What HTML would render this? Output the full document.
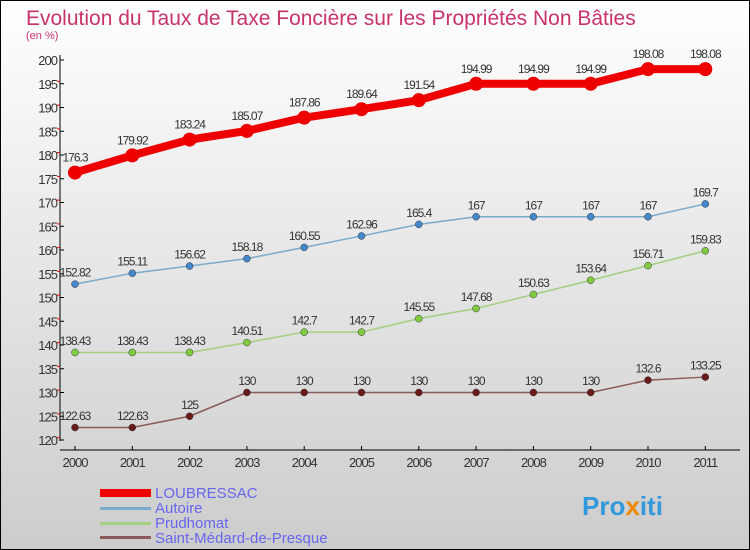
<!DOCTYPE html>
<html><head><meta charset="utf-8"><style>
body{margin:0}
svg{display:block;font-family:"Liberation Sans",sans-serif}
</style></head><body>
<svg id="c" width="750" height="550" viewBox="0 0 750 550">
<defs><linearGradient id="bg" x1="0" y1="0" x2="0" y2="1"><stop offset="0" stop-color="#ffffff"/><stop offset="1" stop-color="#cccccc"/></linearGradient></defs>
<rect x="0.5" y="0.5" width="749" height="549" fill="url(#bg)" stroke="#000"/>
<text x="26" y="25" font-size="21" fill="#c8336a">Evolution du Taux de Taxe Foncière sur les Propriétés Non Bâties</text>
<text x="26" y="39" font-size="11" fill="#c8336a">(en %)</text>
<g id="axes"></g>
<g id="series"></g>
<g>
<rect x="100" y="489" width="51" height="8" fill="#ee0000"/>
<text x="155" y="498" font-size="15" fill="#6666ee">LOUBRESSAC</text>
<rect x="100" y="507" width="51" height="3" fill="#7aaacc"/>
<text x="155" y="513" font-size="15" fill="#6666ee">Autoire</text>
<rect x="100" y="522" width="51" height="3" fill="#a0d080"/>
<text x="155" y="528" font-size="15" fill="#6666ee">Prudhomat</text>
<rect x="100" y="536" width="51" height="3" fill="#8b5a5a"/>
<text x="155" y="543" font-size="15" fill="#6666ee">Saint-Médard-de-Presque</text>
</g>
<text x="582" y="515" font-size="26" font-weight="bold" fill="#3399dd">Pro<tspan fill="#ee8800">x</tspan>iti</text>
</svg>
<script>
const years=[2000,2001,2002,2003,2004,2005,2006,2007,2008,2009,2010,2011];
const yTicks=[120,125,130,135,140,145,150,155,160,165,170,175,180,185,190,195,200];
const loubressac=[176.3,179.92,183.24,185.07,187.86,189.64,191.54,194.99,194.99,194.99,198.08,198.08];
const autoire=[152.82,155.11,156.62,158.18,160.55,162.96,165.4,167,167,167,167,169.7];
const prudhomat=[138.43,138.43,138.43,140.51,142.7,142.7,145.55,147.68,150.63,153.64,156.71,159.83];
const saintMedard=[122.63,122.63,125,130,130,130,130,130,130,130,132.6,133.25];
const NS="http://www.w3.org/2000/svg";
const xS=i=>75+i*57.3;
const yS=v=>440-(v-120)*4.75;
function mk(t,a,p){const e=document.createElementNS(NS,t);for(const k in a)e.setAttribute(k,a[k]);p.appendChild(e);return e;}
const ax=document.getElementById('axes');
let l=mk('line',{x1:60,y1:55,x2:60,y2:441,stroke:'#000'},ax);


l=mk('line',{x1:60,y1:450,x2:740,y2:450,stroke:'#000'},ax);


yTicks.forEach(v=>{
 const y=yS(v);
 mk('line',{x1:60,y1:y,x2:64,y2:y,stroke:'#000'},ax);
 if(v<200) mk('line',{x1:57,y1:y-2.4*4.75/2.4*0.5,x2:60,y2:y-2.4*4.75/2.4*0.5,stroke:'#e00'},ax);
 const t=mk('text',{x:57,y:y+5,'font-size':13,fill:'#333','text-anchor':'end','letter-spacing':'-1'},ax);
 t.textContent=v;
 
 
});
years.forEach((yr,i)=>{
 const x=xS(i);
 mk('line',{x1:x,y1:446,x2:x,y2:450,stroke:'#000'},ax);
 const t=mk('text',{x:x,y:467,'font-size':13,fill:'#333','text-anchor':'middle','letter-spacing':'-1'},ax);
 t.textContent=yr;
 
 
});
const sg=document.getElementById('series');
function draw(vals,name,color,w,r,mcolor){
 const g=mk('g',{},sg);
 
 
 const p=mk('polyline',{points:vals.map((v,i)=>xS(i)+','+yS(v)).join(' '),fill:'none',stroke:color,'stroke-width':w,'stroke-linejoin':'round'},g);
 
 
 vals.forEach((v,i)=>{
  const c=mk('circle',{cx:xS(i),cy:yS(v),r:r,fill:mcolor,stroke:mcolor==='#ee0000'?'none':'#333','stroke-width':0.5},g);
  
  
  const t=mk('text',{x:xS(i),y:yS(v)-r-4,'font-size':12,fill:'#333','text-anchor':'middle','letter-spacing':'-1'},g);
  t.textContent=String(v).replace(/^(\d+)\.(\d+)$/,'$1.$2');
  
  
 });
}
draw(saintMedard,'saint-medard','#8b5a5a',1.5,3.5,'#6b1a1a');
draw(prudhomat,'prudhomat','#a0d080',1.5,3.5,'#80cc40');
draw(autoire,'autoire','#7aaacc',1.5,3.5,'#4488cc');
draw(loubressac,'loubressac','#ee0000',8,7,'#ee0000');
</script>
</body></html>
